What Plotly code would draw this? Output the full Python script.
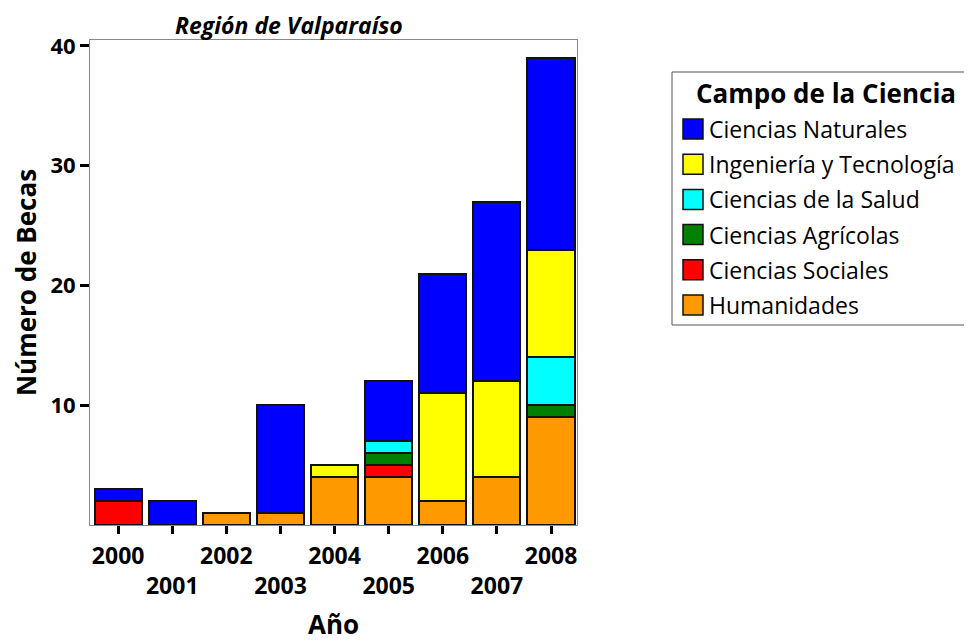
import plotly.graph_objects as go

years = [2000, 2001, 2002, 2003, 2004, 2005, 2006, 2007, 2008]
year_labels = ["2000", "<br>2001", "2002", "<br>2003", "2004", "<br>2005", "2006", "<br>2007", "2008"]

humanidades = [0, 0, 1, 1, 4, 4, 2, 4, 9]
sociales = [2, 0, 0, 0, 0, 1, 0, 0, 0]
agricolas = [0, 0, 0, 0, 0, 1, 0, 0, 1]
salud = [0, 0, 0, 0, 0, 1, 0, 0, 4]
ingenieria = [0, 0, 0, 0, 1, 0, 9, 8, 9]
naturales = [1, 2, 0, 9, 0, 5, 10, 15, 16]

series = [
    ("Humanidades", humanidades, "#FF9900"),
    ("Ciencias Sociales", sociales, "#FF0000"),
    ("Ciencias Agrícolas", agricolas, "#008000"),
    ("Ciencias de la Salud", salud, "#00FFFF"),
    ("Ingeniería y Tecnología", ingenieria, "#FFFF00"),
    ("Ciencias Naturales", naturales, "#0000FF"),
]

FONT = "'Open Sans', Lato, sans-serif"

# layout geometry (figure pixels)
L, T, PW, PH = 82, 32, 487, 485
W, H = 972, 642


def px(x):
    # page x pixel -> paper x (page has 8px body margin)
    return (x - 8 - L) / PW


def py(y):
    return (T + PH - (y - 8)) / PH


fig = go.Figure()
for name, vals, color in series:
    fig.add_trace(go.Bar(
        x=years, y=vals, name=name, showlegend=False,
        marker=dict(color=color, line=dict(color="#111111", width=2)),
        width=0.87,
    ))

shapes = []
annotations = []

# title
annotations.append(dict(
    text="<b><i>Región de Valparaíso</i></b>", x=px(289), y=py(25),
    xref="paper", yref="paper", xanchor="center", yanchor="middle",
    showarrow=False, font=dict(size=23, family=FONT, color="black"),
))

# custom legend
shapes.append(dict(type="rect", xref="paper", yref="paper",
                   x0=px(672), x1=px(1000), y0=py(72), y1=py(325),
                   line=dict(color="#555555", width=1), fillcolor="white", layer="below"))
annotations.append(dict(
    text="<b>Campo de la Ciencia</b>", x=px(826), y=py(93),
    xref="paper", yref="paper", xanchor="center", yanchor="middle",
    showarrow=False, font=dict(size=26, family=FONT, color="black"),
))
row_y0, row_dy = 129, 35.2
for i, (name, vals, color) in enumerate(reversed(series)):
    yc = row_y0 + i * row_dy
    shapes.append(dict(type="rect", xref="paper", yref="paper",
                       x0=px(683), x1=px(703), y0=py(yc - 10), y1=py(yc + 10),
                       line=dict(color="#111111", width=1.5), fillcolor=color))
    annotations.append(dict(
        text=name, x=px(707), y=py(yc),
        xref="paper", yref="paper", xanchor="left", yanchor="middle",
        showarrow=False, font=dict(size=23, family=FONT, color="black"),
    ))

fig.update_layout(
    barmode="stack",
    width=W, height=H,
    paper_bgcolor="white", plot_bgcolor="white",
    margin=dict(l=L, r=W - L - PW, t=T, b=H - T - PH, autoexpand=False),
    font=dict(family=FONT, color="black"),
    shapes=shapes,
    annotations=annotations,
    xaxis=dict(
        tickmode="array", tickvals=years, ticktext=year_labels,
        range=[1999.48, 2008.48],
        tickangle=0,
        ticks="outside", ticklen=8, tickwidth=3, tickcolor="black",
        showline=True, linecolor="#888888", linewidth=1, mirror=True,
        showgrid=False, zeroline=False,
        ticklabelstandoff=2,
        tickfont=dict(size=23, family=FONT, weight="bold"),
        title=dict(text="<b>Año</b>", font=dict(size=26, family=FONT), standoff=16),
    ),
    yaxis=dict(
        range=[0, 40.5],
        tickvals=[10, 20, 30, 40],
        ticks="outside", ticklen=9, tickwidth=3, tickcolor="black",
        showline=True, linecolor="#888888", linewidth=1, mirror=True,
        showgrid=False, zeroline=False,
        tickfont=dict(size=22, family=FONT, weight="bold"),
        title=dict(text="<b>Número de Becas</b>", font=dict(size=26, family=FONT), standoff=8),
    ),
    bargap=0.13,
)

fig.write_html("out.html")
